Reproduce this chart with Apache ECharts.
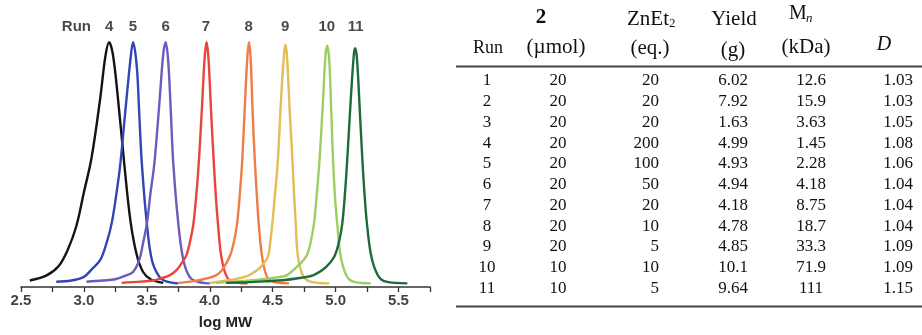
<!DOCTYPE html>
<html><head><meta charset="utf-8">
<script src="https://cdn.jsdelivr.net/npm/echarts@6/dist/echarts.min.js"></script>
<style>html,body{margin:0;padding:0;background:#fff}#c{width:922px;height:335px}</style>
</head><body><div id="c"></div>
<script>
// ---- GPC traces: [log MW, normalised intensity] ----
const run4 = [[2.57,0.015],[2.70,0.035],[2.80,0.075],[2.87,0.14],[2.94,0.24],[3.00,0.38],[3.06,0.52],[3.13,0.77],[3.17,0.94],[3.20,1.0],[3.23,0.95],[3.27,0.77],[3.32,0.50],[3.37,0.26],[3.42,0.12],[3.47,0.05],[3.53,0.02],[3.63,0.005]];
const run5 = [[2.78,0.01],[2.90,0.015],[3.00,0.03],[3.06,0.06],[3.13,0.10],[3.18,0.17],[3.22,0.25],[3.26,0.38],[3.29,0.50],[3.33,0.72],[3.37,0.93],[3.39,1.0],[3.42,0.90],[3.44,0.70],[3.46,0.50],[3.50,0.25],[3.54,0.10],[3.60,0.03],[3.66,0.01],[3.75,0.003]];
const run6 = [[3.02,0.01],[3.15,0.015],[3.25,0.02],[3.33,0.035],[3.39,0.05],[3.44,0.10],[3.47,0.17],[3.50,0.25],[3.53,0.38],[3.56,0.50],[3.60,0.75],[3.63,0.95],[3.65,1.0],[3.67,0.92],[3.69,0.72],[3.71,0.50],[3.75,0.25],[3.79,0.10],[3.84,0.03],[3.90,0.01],[4.00,0.003]];
const run7 = [[3.30,0.005],[3.45,0.01],[3.55,0.015],[3.62,0.025],[3.68,0.036],[3.74,0.06],[3.78,0.09],[3.815,0.12],[3.845,0.18],[3.87,0.25],[3.895,0.38],[3.915,0.52],[3.94,0.75],[3.96,0.94],[3.975,1.0],[3.99,0.93],[4.01,0.72],[4.03,0.52],[4.05,0.35],[4.065,0.25],[4.09,0.12],[4.13,0.036],[4.18,0.01],[4.30,0.003]];
const run8 = [[3.75,0.005],[3.85,0.01],[3.95,0.02],[4.05,0.036],[4.10,0.06],[4.16,0.116],[4.19,0.17],[4.217,0.25],[4.24,0.38],[4.259,0.52],[4.28,0.75],[4.30,0.95],[4.312,1.0],[4.325,0.93],[4.34,0.72],[4.357,0.52],[4.375,0.36],[4.389,0.25],[4.415,0.116],[4.45,0.036],[4.50,0.01],[4.63,0.003]];
const run9 = [[4.00,0.005],[4.10,0.012],[4.20,0.02],[4.30,0.034],[4.37,0.055],[4.42,0.08],[4.463,0.116],[4.48,0.17],[4.497,0.25],[4.52,0.38],[4.542,0.52],[4.565,0.75],[4.59,0.95],[4.603,0.99],[4.615,0.93],[4.635,0.72],[4.656,0.52],[4.67,0.37],[4.683,0.25],[4.70,0.116],[4.74,0.036],[4.80,0.01],[4.95,0.003]];
const run10 = [[4.05,0.005],[4.20,0.01],[4.35,0.016],[4.45,0.022],[4.55,0.029],[4.61,0.036],[4.69,0.07],[4.767,0.116],[4.80,0.17],[4.828,0.25],[4.85,0.37],[4.873,0.52],[4.90,0.76],[4.92,0.95],[4.934,0.985],[4.95,0.92],[4.965,0.72],[4.979,0.52],[4.995,0.36],[5.013,0.25],[5.04,0.116],[5.085,0.036],[5.14,0.01],[5.28,0.003]];
const run11 = [[4.13,0.005],[4.30,0.008],[4.45,0.012],[4.58,0.016],[4.70,0.024],[4.82,0.036],[4.90,0.06],[4.95,0.085],[4.992,0.116],[5.025,0.17],[5.053,0.25],[5.075,0.38],[5.093,0.52],[5.12,0.76],[5.145,0.95],[5.156,0.975],[5.17,0.93],[5.19,0.74],[5.212,0.52],[5.23,0.37],[5.249,0.25],[5.283,0.116],[5.336,0.036],[5.40,0.01],[5.57,0.003]];

// ---- Run labels above the peaks ----
const peakLabels = ['Run','4','5','6','7','8','9','10','11'];
const peakLabelX = [2.94,3.20,3.39,3.65,3.97,4.31,4.60,4.93,5.16];
const peakLabelY = 1.064;

// ---- Axis ----
const xTicksMin = 2.5, xTicksMax = 5.75, xStep = 0.5;

// ---- Table ----
const tabRun   = ['1','2','3','4','5','6','7','8','9','10','11'];
const tabUmol  = ['20','20','20','20','20','20','20','20','20','10','10'];
const tabZnEt2 = ['20','20','20','200','100','50','20','10','5','10','5'];
const tabYield = ['6.02','7.92','1.63','4.99','4.93','4.94','4.18','4.78','4.85','10.1','9.64'];
const tabMn    = ['12.6','15.9','3.63','1.45','2.28','4.18','8.75','18.7','33.3','71.9','111'];
const tabD     = ['1.03','1.03','1.05','1.08','1.06','1.04','1.04','1.04','1.09','1.09','1.15'];

const traces = [run4, run5, run6, run7, run8, run9, run10, run11];
const traceColors = ['#141414','#3246b3','#6a5bbd','#e8453c','#ef7d45','#e3bd55','#9ccf62','#1d6a3c'];

const series = traces.map((d, i) => ({
  type: 'line', data: d, smooth: 0.35, symbol: 'none',
  lineStyle: { color: traceColors[i], width: 2.4 }, z: 2 + i
}));
series.push({
  type: 'scatter', symbolSize: 0, z: 20,
  data: peakLabels.map((n, i) => ({ name: n, value: [peakLabelX[i], peakLabelY] })),
  label: { show: true, position: 'inside', formatter: p => p.name,
    fontFamily: 'Liberation Sans, Arial, sans-serif', fontWeight: 'bold', fontSize: 15, color: '#1a1a1a' }
});

// table graphics
const serif = '"Liberation Serif", "Times New Roman", serif';
function txt(s, x, y, opt) {
  opt = opt || {};
  const align = opt.align || 'center';
  return { type: 'text', x: x, y: y, z: 100, style: {
    text: s, fill: '#111', align: align, textAlign: align, verticalAlign: 'middle', textVerticalAlign: 'middle',
    font: (opt.italic ? 'italic ' : '') + (opt.bold ? 'bold ' : '') + (opt.size || 17) + 'px ' + serif } };
}
const g = [];
g.push(txt('2', 541, 18, {bold: true, size: 21}));
g.push(txt('ZnEt', 648, 19, {size: 21}));
g.push(txt('2', 669, 24, {size: 13, align: 'left'}));
g.push(txt('Yield', 734, 19, {size: 21}));
g.push(txt('M', 798, 14, {size: 20}));
g.push(txt('n', 806, 19, {size: 13, italic: true, align: 'left'}));
g.push(txt('Run', 488, 48, {size: 18}));
g.push(txt('(\u00b5mol)', 556, 47, {size: 21}));
g.push(txt('(eq.)', 650, 48, {size: 21}));
g.push(txt('(g)', 733, 50, {size: 21}));
g.push(txt('(kDa)', 806, 47, {size: 21}));
g.push(txt('D', 884, 45, {size: 20, italic: true}));
g.push({ type: 'line', z: 100, shape: {x1: 456, y1: 66.5, x2: 922, y2: 66.5}, style: {stroke: '#444', lineWidth: 1.8} });
g.push({ type: 'line', z: 100, shape: {x1: 456, y1: 306.5, x2: 922, y2: 306.5}, style: {stroke: '#444', lineWidth: 1.8} });
for (let i = 0; i < tabRun.length; i++) {
  const y = 81 + i * 20.75;
  g.push(txt(tabRun[i], 487, y));
  g.push(txt(tabUmol[i], 558, y));
  g.push(txt(tabZnEt2[i], 659, y, {align: 'right'}));
  g.push(txt(tabYield[i], 733, y));
  g.push(txt(tabMn[i], 811, y));
  g.push(txt(tabD[i], 898, y));
}

const chart = echarts.init(document.getElementById('c'), null, {renderer: 'canvas'});
chart.setOption({
  animation: false,
  backgroundColor: '#fff',
  grid: { left: 21, width: 409, top: 18, bottom: 40 },
  xAxis: {
    type: 'value', min: xTicksMin, max: xTicksMax, interval: xStep,
    name: 'log MW', nameLocation: 'middle', nameGap: 28,
    nameTextStyle: { fontFamily: 'Liberation Sans, Arial, sans-serif', fontWeight: 'bold', fontSize: 15, color: '#222' },
    axisLine: { onZero: false, lineStyle: { color: '#333', width: 1.6 } },
    axisTick: { show: true, inside: false, length: 5, lineStyle: { color: '#333', width: 1.3 } },
    minorTick: { show: true, splitNumber: 2, length: 5, lineStyle: { color: '#333', width: 1.3 } },
    axisLabel: { margin: 6, showMaxLabel: false, fontFamily: 'Liberation Sans, Arial, sans-serif', fontSize: 15, fontWeight: 'bold', color: '#444',
      formatter: v => v.toFixed(1) },
    splitLine: { show: false }
  },
  yAxis: { type: 'value', min: -0.012, max: 1.1, show: false, splitLine: { show: false } },
  series: series,
  graphic: { elements: g }
});
</script></body></html>
